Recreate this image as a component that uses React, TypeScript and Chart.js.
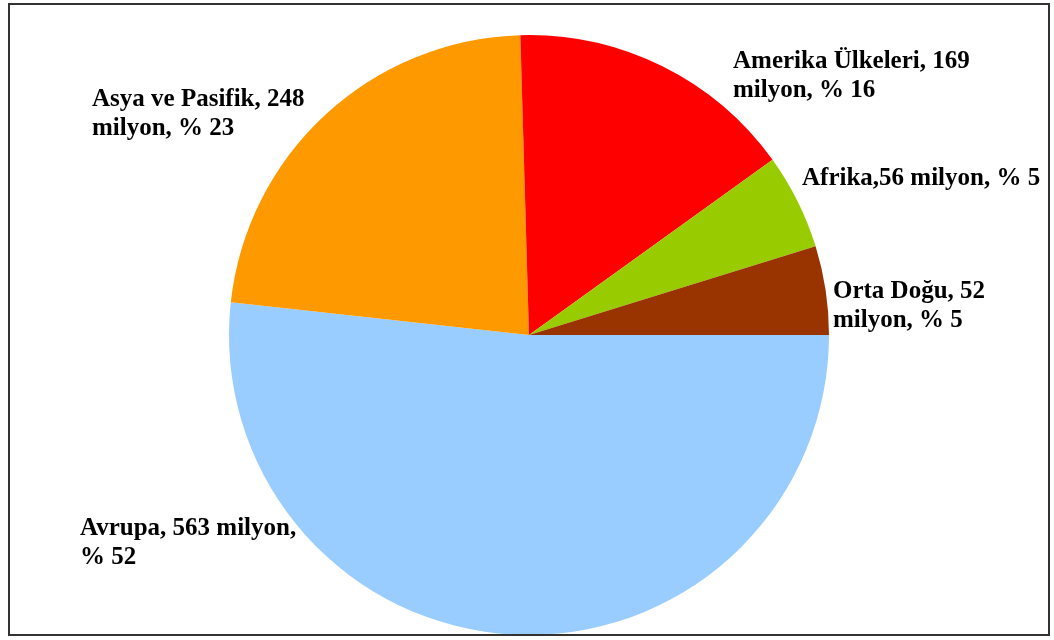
import React, { useEffect, useRef } from "react";
import { Chart, registerables } from "chart.js";

Chart.register(...registerables);

const regions = ["Avrupa", "Asya ve Pasifik", "Amerika Ülkeleri", "Afrika", "Orta Doğu"];
const visitors = [563, 248, 169, 56, 52];
const labelLines = [
  ["Avrupa, 563 milyon,", "% 52"],
  ["Asya ve Pasifik, 248", "milyon, % 23"],
  ["Amerika Ülkeleri, 169", "milyon, % 16"],
  ["Afrika,56 milyon, % 5"],
  ["Orta Doğu, 52", "milyon, % 5"],
];
const colors = ["#99CCFF", "#FF9900", "#FF0000", "#99CC00", "#993300"];

// label layout: offset of first-line baseline from pie centre (pixels)
const labelOffsets = [
  [-449, 200],
  [-437, -229],
  [204, -267],
  [273, -150],
  [304, -37],
];

const labelPlugin = {
  id: "sliceLabels",
  beforeDraw(chart: any) {
    const ctx = chart.ctx;
    ctx.save();
    ctx.fillStyle = "#ffffff";
    ctx.fillRect(0, 0, chart.width, chart.height);
    ctx.restore();
  },
  afterDraw(chart: any) {
    const ctx = chart.ctx;
    const meta = chart.getDatasetMeta(0);
    const arc = meta.data[0];
    const cx = arc.x;
    const cy = arc.y;
    ctx.save();
    ctx.font = "bold 25px 'Liberation Serif', 'Times New Roman', serif";
    ctx.fillStyle = "#000000";
    ctx.textBaseline = "alphabetic";
    ctx.textAlign = "left";
    labelLines.forEach((lines, i) => {
      const [dx, dy] = labelOffsets[i];
      lines.forEach((t, j) => {
        ctx.fillText(t, cx + dx, cy + dy + j * 29);
      });
    });
    ctx.strokeStyle = "#333333";
    ctx.lineWidth = 2;
    ctx.strokeRect(9, 4, 1040, 631);
    ctx.restore();
  },
};

export default function App() {
  const ref = useRef<HTMLCanvasElement>(null);
  useEffect(() => {
    if (!ref.current) return;
    const chart = new Chart(ref.current, {
      type: "pie",
      data: {
        labels: regions,
        datasets: [
          {
            data: visitors,
            backgroundColor: colors,
            borderWidth: 0,
          },
        ],
      },
      options: {
        responsive: false,
        animation: false,
        rotation: 90,
        layout: { padding: { left: 229, right: 225, top: 35, bottom: 5 } },
        plugins: {
          legend: { display: false },
          tooltip: { enabled: false },
        },
      },
      plugins: [labelPlugin],
    });
    return () => chart.destroy();
  }, []);
  return (
    <div style={{ position: "absolute", left: 0, top: 0, width: 1054, height: 640, background: "#fff" }}>
      <canvas ref={ref} width={1054} height={640} style={{ display: "block" }} />
    </div>
  );
}
